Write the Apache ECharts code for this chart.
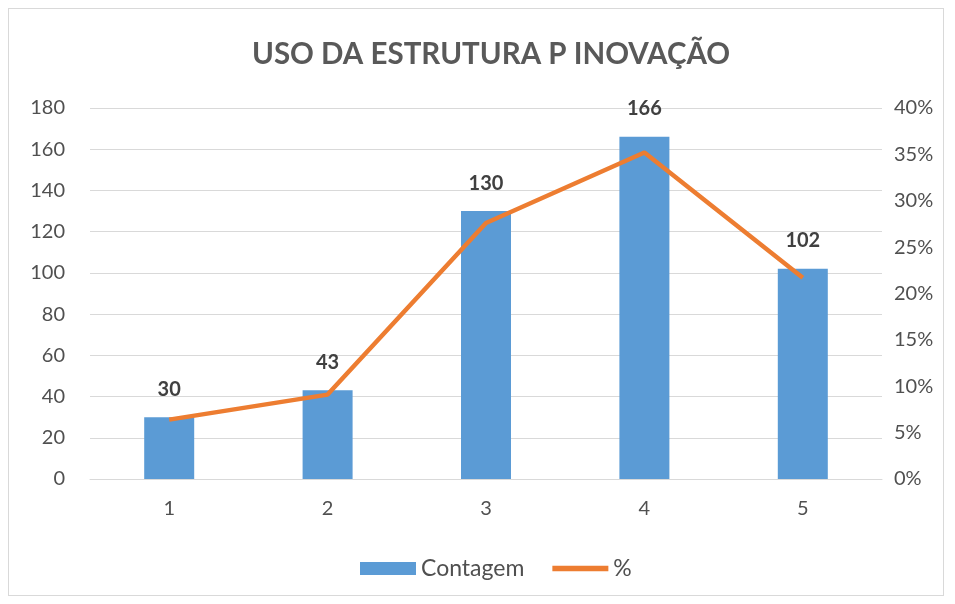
<!DOCTYPE html>
<html>
<head>
<meta charset="utf-8">
<script src="https://cdn.jsdelivr.net/npm/echarts@6/dist/echarts.min.js"></script>
<style>
  html, body { margin: 0; padding: 0; background: #fff; }
  #frame { position: absolute; left: 8px; top: 8px; width: 936px; height: 588px; border: 1px solid #d9d9d9; box-sizing: border-box; }
  #main { width: 955px; height: 604px; position: absolute; left: 0; top: 0; }
</style>
</head>
<body>
<div id="frame"></div>
<div id="main"></div>
<script>
var categories = ['1', '2', '3', '4', '5'];
var contagem = [30, 43, 130, 166, 102];
var percent = [0.064, 0.091, 0.276, 0.352, 0.217];
var leftTicks = [0, 180, 20];
var rightTicks = [0, 0.4, 0.05];

var font = 'Lato, "Open Sans", sans-serif';
var textColor = '#505050';

var myChart = echarts.init(document.getElementById('main'));
var option = {
  animation: false,
  textStyle: { fontFamily: font },
  title: {
    text: 'USO DA ESTRUTURA P INOVAÇÃO',
    left: 247,
    top: 34,
    textStyle: { fontFamily: font, fontSize: 29.5, fontWeight: 'bold', color: '#595959' }
  },
  legend: {
    bottom: 19,
    left: 355,
    itemGap: 28,
    itemWidth: 56,
    itemHeight: 13,
    textStyle: { fontFamily: font, fontSize: 23, color: textColor },
    data: [
      { name: 'Contagem', icon: 'rect' },
      { name: '%', icon: 'path://M0,0 L10,0 L10,1 L0,1 Z' }
    ]
  },
  grid: { left: 90, right: 73, top: 108, bottom: 125 },
  xAxis: {
    type: 'category',
    data: categories,
    axisLine: { lineStyle: { color: '#d9d9d9' } },
    axisTick: { show: false },
    axisLabel: { fontSize: 20, color: textColor, margin: 20 }
  },
  yAxis: [
    {
      type: 'value',
      min: leftTicks[0],
      max: leftTicks[1],
      interval: leftTicks[2],
      axisLine: { show: false },
      axisTick: { show: false },
      splitLine: { lineStyle: { color: '#d9d9d9' } },
      axisLabel: { fontSize: 20, color: textColor, margin: 25 }
    },
    {
      type: 'value',
      min: rightTicks[0],
      max: rightTicks[1],
      interval: rightTicks[2],
      axisLine: { show: false },
      axisTick: { show: false },
      splitLine: { show: false },
      axisLabel: {
        fontSize: 20,
        color: textColor,
        margin: 12,
        formatter: function (v) { return Math.round(v * 100) + '%'; }
      }
    }
  ],
  series: [
    {
      name: 'Contagem',
      type: 'bar',
      data: contagem,
      barWidth: 50,
      itemStyle: { color: '#5b9bd5' },
      label: {
        show: true,
        position: 'top',
        distance: 18,
        fontSize: 20,
        fontWeight: 'bold',
        color: '#404040'
      }
    },
    {
      name: '%',
      type: 'line',
      yAxisIndex: 1,
      data: percent,
      symbol: 'none',
      lineStyle: { color: '#ed7d31', width: 4.5 },
      itemStyle: { color: '#ed7d31' }
    }
  ]
};
myChart.setOption(option);
</script>
</body>
</html>
